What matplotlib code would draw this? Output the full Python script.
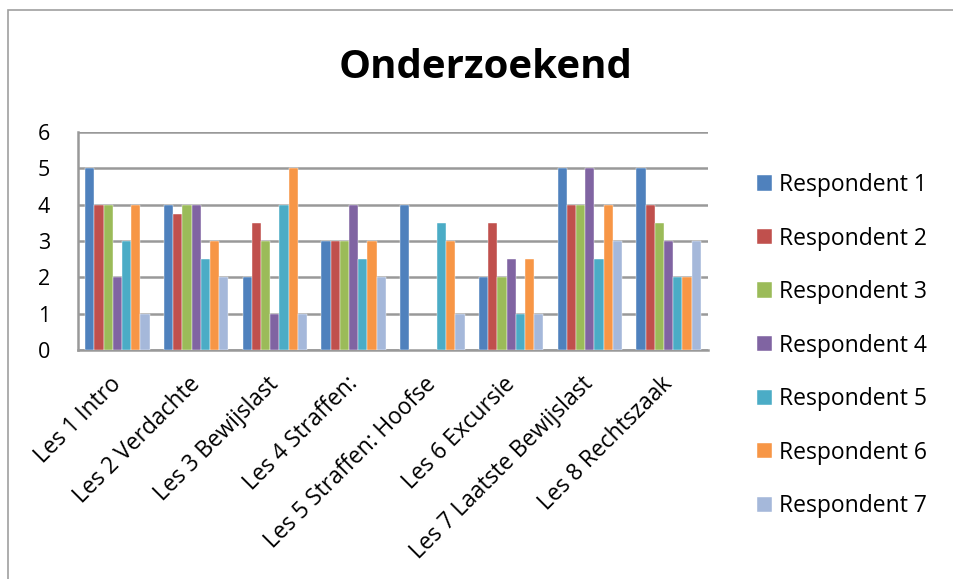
import matplotlib
matplotlib.use("Agg")
import matplotlib.pyplot as plt
import matplotlib.transforms as mtransforms
from matplotlib.patches import Rectangle
import numpy as np

plt.rcParams['font.family'] = ['Open Sans', 'DejaVu Sans']

lessons = ["Les 1 Intro", "Les 2 Verdachte", "Les 3 Bewijslast", "Les 4 Straffen:",
           "Les 5 Straffen: Hoofse", "Les 6 Excursie", "Les 7 Laatste Bewijslast",
           "Les 8 Rechtszaak"]
respondents = ["Respondent 1", "Respondent 2", "Respondent 3", "Respondent 4",
               "Respondent 5", "Respondent 6", "Respondent 7"]
r1 = [5, 4, 2, 3, 4, 2, 5, 5]
r2 = [4, 3.75, 3.5, 3, 0, 3.5, 4, 4]
r3 = [4, 4, 3, 3, 0, 2, 4, 3.5]
r4 = [2, 4, 1, 4, 0, 2.5, 5, 3]
r5 = [3, 2.5, 4, 2.5, 3.5, 1, 2.5, 2]
r6 = [4, 3, 5, 3, 3, 2.5, 4, 2]
r7 = [1, 2, 1, 2, 1, 1, 3, 3]
series = [r1, r2, r3, r4, r5, r6, r7]
colors = ["#4F81BD", "#C0504D", "#9BBB59", "#8064A2", "#4BACC6", "#F79646", "#A5B8DA"]
yticks = [0, 1, 2, 3, 4, 5, 6]

fig = plt.figure(figsize=(9.54, 5.79), dpi=100)
fig.patches.append(Rectangle((8 / 954, -0.1), 1.2, 1 - 10 / 579 + 0.1,
                             transform=fig.transFigure, fill=False,
                             edgecolor="#A0A0A0", linewidth=1.2))

ax = fig.add_axes([78 / 954, 1 - 350 / 579, 630 / 954, 218 / 579])
x = np.arange(len(lessons))
bw = 0.117
for i, (vals, c, name) in enumerate(zip(series, colors, respondents)):
    ax.bar(x + (i - 3) * bw, vals, width=bw, color=c, label=name,
           edgecolor="white", linewidth=0.3, zorder=3)

ax.set_xlim(-0.5, len(lessons) - 0.5)
ax.set_ylim(0, 6)
ax.set_yticks(yticks)
ax.set_yticklabels([str(v) for v in yticks], fontsize=15.5)
ax.yaxis.grid(True, color="#999999", linewidth=1.8, zorder=0)
ax.set_axisbelow(True)
for s in ["top", "right"]:
    ax.spines[s].set_visible(False)
for s in ["left", "bottom"]:
    ax.spines[s].set_color("#999999")
    ax.spines[s].set_linewidth(1.8)
ax.tick_params(axis="y", length=0, pad=20)
ax.tick_params(axis="x", length=0, pad=16)
ax.set_xticks(x)
ax.set_xticklabels(lessons, rotation=45, ha="right", va="top",
                   rotation_mode="anchor", fontsize=16.4)
shift = mtransforms.ScaledTranslation(-6 / 72, 0, fig.dpi_scale_trans)
for lab in ax.get_xticklabels():
    lab.set_transform(lab.get_transform() + shift)

fig.text(486 / 954, 1 - 68 / 579, "Onderzoekend", ha="center", va="center",
         fontsize=29, fontweight="bold")

leg = ax.legend(loc="center left", bbox_to_anchor=(1.078, 0.02), frameon=False,
                fontsize=16.5, handlelength=0.65, handleheight=0.65,
                labelspacing=1.29, handletextpad=0.3, borderpad=0,
                borderaxespad=0)

fig.savefig("out.png", dpi=100)
